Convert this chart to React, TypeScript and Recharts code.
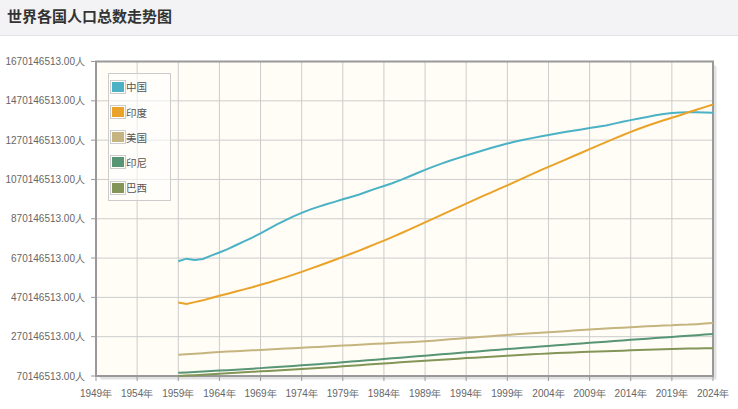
import { LineChart, Line, XAxis, YAxis, CartesianGrid, Legend, ReferenceArea } from "recharts";

document.body.style.margin = "0";

// years shown on the chart (first point sits on the 1959 tick)
const years = Array.from({ length: 66 }, (_, i) => 1959 + i);

// population, millions
const china = [
  654, 667.1, 660.3, 665.8, 682.3, 698.4, 715.2, 735.4, 754.6, 774.5,
  796.0, 818.3, 841.1, 862.0, 881.9, 900.4, 916.4, 930.7, 943.5, 956.2,
  969.0, 981.2, 993.9, 1008.6, 1023.3, 1036.8, 1051.0, 1066.8, 1084.0, 1101.6,
  1118.7, 1135.2, 1150.8, 1165.0, 1178.4, 1191.8, 1204.9, 1217.6, 1230.1, 1241.9,
  1252.7, 1262.7, 1271.9, 1280.4, 1288.4, 1296.1, 1303.7, 1311.0, 1317.9, 1324.7,
  1331.3, 1337.7, 1345.0, 1354.2, 1363.2, 1371.9, 1379.9, 1387.8, 1396.2, 1402.8,
  1407.8, 1411.1, 1412.4, 1412.2, 1410.7, 1409.0,
];
const india = [
  444, 437, 446, 455, 467, 478, 489, 500, 511, 522,
  534, 546, 559, 572, 586, 600, 615, 630, 645, 660,
  676, 692, 708, 725, 742, 759, 777, 795, 814, 833,
  852, 871, 890, 909, 928, 947, 966, 985, 1003, 1022,
  1040, 1059, 1078, 1097, 1116, 1134, 1152, 1170, 1188, 1206,
  1224, 1242, 1260, 1278, 1295, 1312, 1328, 1343, 1357, 1371,
  1384, 1397, 1412, 1425, 1438, 1451,
];
const usa = [
  177.8, 180.7, 183.7, 186.5, 189.2, 191.9, 194.3, 196.6, 198.7, 200.7,
  202.7, 205.1, 207.7, 209.9, 211.9, 213.9, 216.0, 218.0, 220.2, 222.6,
  225.1, 227.2, 229.5, 231.7, 233.8, 235.8, 237.9, 240.1, 242.3, 244.5,
  246.8, 249.6, 253.0, 256.5, 260.0, 263.1, 266.3, 269.4, 272.7, 275.9,
  279.0, 282.2, 285.0, 287.6, 290.1, 292.8, 295.5, 298.4, 301.2, 304.1,
  306.8, 309.3, 311.6, 313.9, 316.1, 318.4, 320.7, 323.1, 325.1, 326.8,
  328.3, 331.5, 332.0, 334.0, 336.8, 340.1,
];
const indonesia = [
  86.3, 88.4, 90.6, 92.9, 95.2, 97.5, 99.9, 102.4, 104.9, 107.5,
  110.2, 112.9, 115.7, 118.5, 121.4, 124.4, 127.4, 130.5, 133.6, 136.8,
  140.0, 143.3, 146.6, 149.9, 153.3, 156.7, 160.1, 163.5, 166.9, 170.3,
  173.7, 177.1, 180.5, 183.9, 187.3, 190.7, 194.1, 197.5, 200.8, 204.1,
  207.4, 210.6, 213.8, 217.0, 220.2, 223.3, 226.4, 229.5, 232.6, 235.7,
  238.8, 241.9, 245.0, 248.1, 251.1, 254.1, 257.1, 260.1, 263.0, 265.9,
  268.7, 271.9, 274.8, 277.8, 280.8, 283.5,
];
const brazil = [
  70.5, 72.2, 74.5, 76.8, 79.2, 81.6, 84.0, 86.4, 88.8, 91.3,
  93.7, 96.2, 98.6, 101.0, 103.4, 105.9, 108.4, 111.0, 113.7, 116.4,
  119.3, 122.2, 125.2, 128.1, 131.0, 133.9, 136.8, 139.6, 142.4, 145.2,
  147.9, 150.7, 153.3, 155.9, 158.5, 161.1, 163.6, 166.1, 168.5, 170.9,
  173.3, 175.9, 178.2, 180.5, 182.7, 184.7, 186.7, 188.6, 190.3, 191.9,
  193.5, 195.0, 196.4, 197.8, 199.2, 200.7, 202.1, 203.5, 204.9, 206.2,
  207.5, 208.7, 209.6, 210.3, 211.1, 211.9,
];

const xTicks = [1949, 1954, 1959, 1964, 1969, 1974, 1979, 1984, 1989, 1994, 1999, 2004, 2009, 2014, 2019, 2024];
const yTicks = [70146513, 270146513, 470146513, 670146513, 870146513, 1070146513, 1270146513, 1470146513, 1670146513];

const series = [
  { key: "china", name: "中国", color: "#4bb2c5", values: china },
  { key: "india", name: "印度", color: "#eaa228", values: india },
  { key: "usa", name: "美国", color: "#c5b47f", values: usa },
  { key: "indonesia", name: "印尼", color: "#579575", values: indonesia },
  { key: "brazil", name: "巴西", color: "#839557", values: brazil },
];

const data = years.map((year, i) => {
  const row: Record<string, number> = { year };
  series.forEach((s) => {
    row[s.key] = Math.round(s.values[i] * 1e6);
  });
  return row;
});

const tickStyle = { fill: "#666", fontSize: 10, fontFamily: "'Liberation Sans', Arial, sans-serif" };

// plot border with the soft right/bottom shadow
const PlotFrame = (props: any) => {
  const { x, y, width, height } = props;
  return (
    <g>
      {[1, 2, 3].map((o) => (
        <path
          key={o}
          d={`M${x + width + o},${y + o + 2} V${y + height + o} H${x + o + 2}`}
          fill="none"
          stroke="rgba(0,0,0,0.08)"
          strokeWidth={1.5}
        />
      ))}
      <rect x={x} y={y} width={width} height={height} fill="none" stroke="#999" strokeWidth={2} />
    </g>
  );
};

const LegendBox = () => (
  <div
    style={{
      border: "1px solid #ccc",
      background: "rgba(255,255,255,0.6)",
      padding: "0 0 0 1px",
      fontFamily: "'Noto Sans CJK SC', sans-serif",
      fontSize: 10.5,
      color: "#555",
    }}
  >
    {series.map((s) => (
      <div key={s.key} style={{ display: "flex", alignItems: "center", height: 25.2 }}>
        <span style={{ border: "1px solid #ccc", padding: 1, display: "inline-block", lineHeight: 0 }}>
          <span style={{ display: "inline-block", width: 12, height: 10, background: s.color }} />
        </span>
        <span>{s.name}</span>
      </div>
    ))}
  </div>
);

export default function App() {
  return (
    <div style={{ width: 738, height: 409, background: "#fff", position: "relative", overflow: "hidden" }}>
      <div
        style={{
          height: 35,
          background: "#f3f3f5",
          borderBottom: "1px solid #e2e2e2",
          fontFamily: "'Noto Sans CJK SC', sans-serif",
          fontWeight: "bold",
          fontSize: 15,
          color: "#333",
          lineHeight: "32px",
          paddingLeft: 7,
        }}
      >
        世界各国人口总数走势图
      </div>
      <LineChart
        width={738}
        height={373}
        data={data}
        margin={{ top: 25.5, right: 25, bottom: 8, left: 8 }}
      >
        <CartesianGrid stroke="#cccccc" fill="#fffdf6" />
        <XAxis
          type="number"
          dataKey="year"
          domain={[1949, 2024]}
          ticks={xTicks}
          interval={0}
          tickFormatter={(v) => `${v}年`}
          axisLine={false}
          tickLine={{ stroke: "#999" }}
          tickSize={5}
          tickMargin={9}
          height={25}
          tick={tickStyle}
        />
        <YAxis
          type="number"
          domain={[70146513, 1670146513]}
          ticks={yTicks}
          interval={0}
          tickFormatter={(v) => `${v}.00人`}
          axisLine={false}
          tickLine={{ stroke: "#999" }}
          tickSize={5}
          tickMargin={6}
          width={88}
          tick={tickStyle}
        />
        <ReferenceArea
          x1={1949}
          x2={2024}
          y1={70146513}
          y2={1670146513}
          shape={PlotFrame}
        />
        {series.map((s) => (
          <Line
            key={s.key}
            type="linear"
            dataKey={s.key}
            name={s.name}
            stroke={s.color}
            strokeWidth={2}
            dot={false}
            isAnimationActive={false}
          />
        ))}
        <Legend
          layout="vertical"
          align="center"
          verticalAlign="middle"
          content={LegendBox}
          wrapperStyle={{ left: 108, top: 37.3, width: 63 }}
        />
      </LineChart>
    </div>
  );
}
